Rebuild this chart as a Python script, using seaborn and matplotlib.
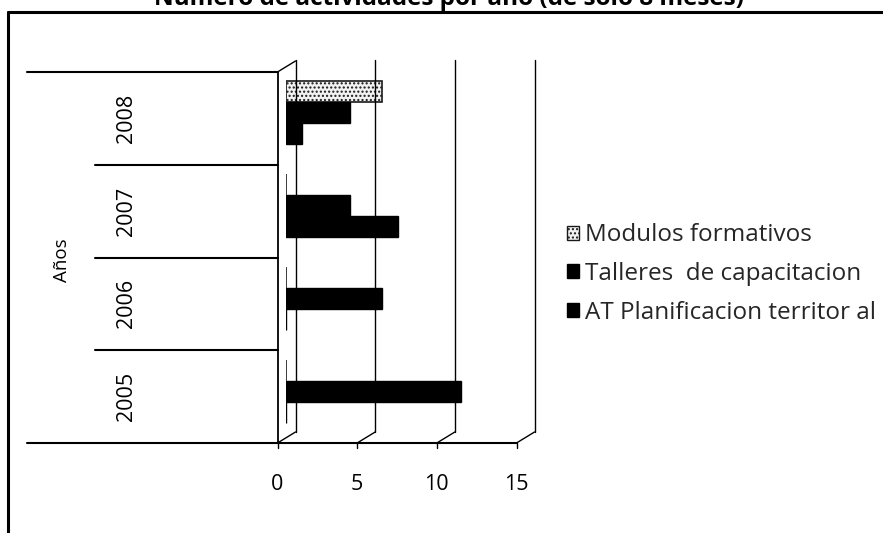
import numpy as np
import pandas as pd
import matplotlib
matplotlib.use("Agg")
import matplotlib.pyplot as plt
import matplotlib.transforms as mtransforms
from matplotlib.lines import Line2D
from matplotlib.patches import Patch
import seaborn as sns

# Activities per year and type
years = ["2005", "2006", "2007", "2008"]
series = ["Modulos formativos", "Talleres  de capacitacion", "AT Planificacion territor al"]
modulos = [0, 0, 0, 6]
talleres = [11, 6, 4, 4]
at_plan = [0, 0, 7, 1]
xticks = [0, 5, 10, 15]
title = "Numero de actividades por año (de solo 8 meses)"
axis_label = "Años"

df = pd.DataFrame({
    "Año": years * 3,
    "Serie": [series[0]] * 4 + [series[1]] * 4 + [series[2]] * 4,
    "Valor": modulos + talleres + at_plan,
})
year_order = years[::-1]  # 2008 on top

sns.set_theme(style="white")
plt.rcParams["font.family"] = ["Open Sans", "DejaVu Sans"]

W, H = 883, 533
fig = plt.figure(figsize=(W / 100, H / 100), dpi=100)
fig.patch.set_facecolor("white")

# plotting plane sits at mid depth of the 3-D box
ax = fig.add_axes([286 / W, 1 - 437.5 / H, 239 / W, 371 / H])
palette = {series[0]: "#f2f2f2", series[1]: "#000000", series[2]: "#000000"}
sns.barplot(data=df, y="Año", x="Valor", hue="Serie", order=year_order,
            hue_order=series, palette=palette, orient="h", width=0.68,
            saturation=1, errorbar=None, legend=False, ax=ax)
for p in ax.containers[0]:
    p.set_edgecolor("#1a1a1a")
    p.set_linewidth(1.2)
    p.set_hatch("....")
for c in ax.containers[1:]:
    for p in c:
        p.set_edgecolor("black")
        p.set_linewidth(1.0)

ax.set_xlim(0, 15)
ax.set_ylim(3.5, -0.5)
ax.set_axis_off()

front = mtransforms.offset_copy(ax.transData, fig=fig, x=-8.5, y=-5.5, units="dots")
back = mtransforms.offset_copy(ax.transData, fig=fig, x=9.5, y=5.5, units="dots")
to_fig = fig.transFigure.inverted()


def seg(p, q, lw=1.2):
    a = to_fig.transform(p)
    b = to_fig.transform(q)
    fig.add_artist(Line2D([a[0], b[0]], [a[1], b[1]], color="black", lw=lw,
                          transform=fig.transFigure))


ymin, ymax = -0.5, 3.5
# back wall gridlines and floor diagonals
for t in xticks:
    seg(back.transform((t, ymin - 0.01)), back.transform((t, ymax)), lw=1.0)
    seg(front.transform((t, ymax)), back.transform((t, ymax)), lw=1.0)
    # tick marks under the floor edge
    p = front.transform((t, ymax))
    seg(p, (p[0], p[1] - 5), lw=1.0)

# side wall
seg(front.transform((0, ymin)), front.transform((0, ymax)), lw=1.3)
seg(front.transform((0, ymin)), back.transform((0, ymin)), lw=1.0)

# category table lines on the left
for i, yb in enumerate([-0.5, 0.5, 1.5, 2.5, 3.5]):
    x0 = 27 if i in (0, 4) else 95
    p = front.transform((0, yb))
    seg((x0, p[1]), p, lw=1.5)
p = front.transform((15, ymax))
seg(front.transform((0, ymax)), p, lw=1.5)

# category labels
for i, yr in enumerate(year_order):
    yy = to_fig.transform(front.transform((0, i)))[1]
    fig.text(127 / W, yy, yr, rotation=90, ha="center", va="center",
             fontsize=15.5, color="black")

# value labels along the floor edge
for t in xticks:
    p = to_fig.transform(front.transform((t, ymax)))
    fig.text(p[0], 1 - 484 / H, str(t), ha="center", va="center",
             fontsize=15.5, color="black")

fig.text(62 / W, 1 - 260 / H, axis_label, rotation=90, ha="center",
         va="center", fontsize=13.5, color="black")

# outer frame
fig.add_artist(Line2D([8 / W, 1.0], [1 - 12 / H, 1 - 12 / H], color="black",
                      lw=2.2, transform=fig.transFigure))
fig.add_artist(Line2D([8 / W, 8 / W], [0, 1 - 12 / H], color="black",
                      lw=2.2, transform=fig.transFigure))

# title (runs off the top edge)
fig.text(449 / W, 1 - 5 / H, title, ha="center", va="baseline",
         fontsize=17.5, fontweight="bold", color="black")

handles = [
    Patch(facecolor="#f2f2f2", edgecolor="#1a1a1a", hatch="....", lw=1.0),
    Patch(facecolor="black", edgecolor="black"),
    Patch(facecolor="black", edgecolor="black"),
]
fig.legend(handles, series, loc="center left",
           bbox_to_anchor=(555 / W, 1 - 274 / H), frameon=False,
           fontsize=17.5, handlelength=0.5, handleheight=0.5,
           handletextpad=0.25, labelspacing=0.6, borderpad=0)

fig.savefig("out.png", dpi=100, facecolor="white")
